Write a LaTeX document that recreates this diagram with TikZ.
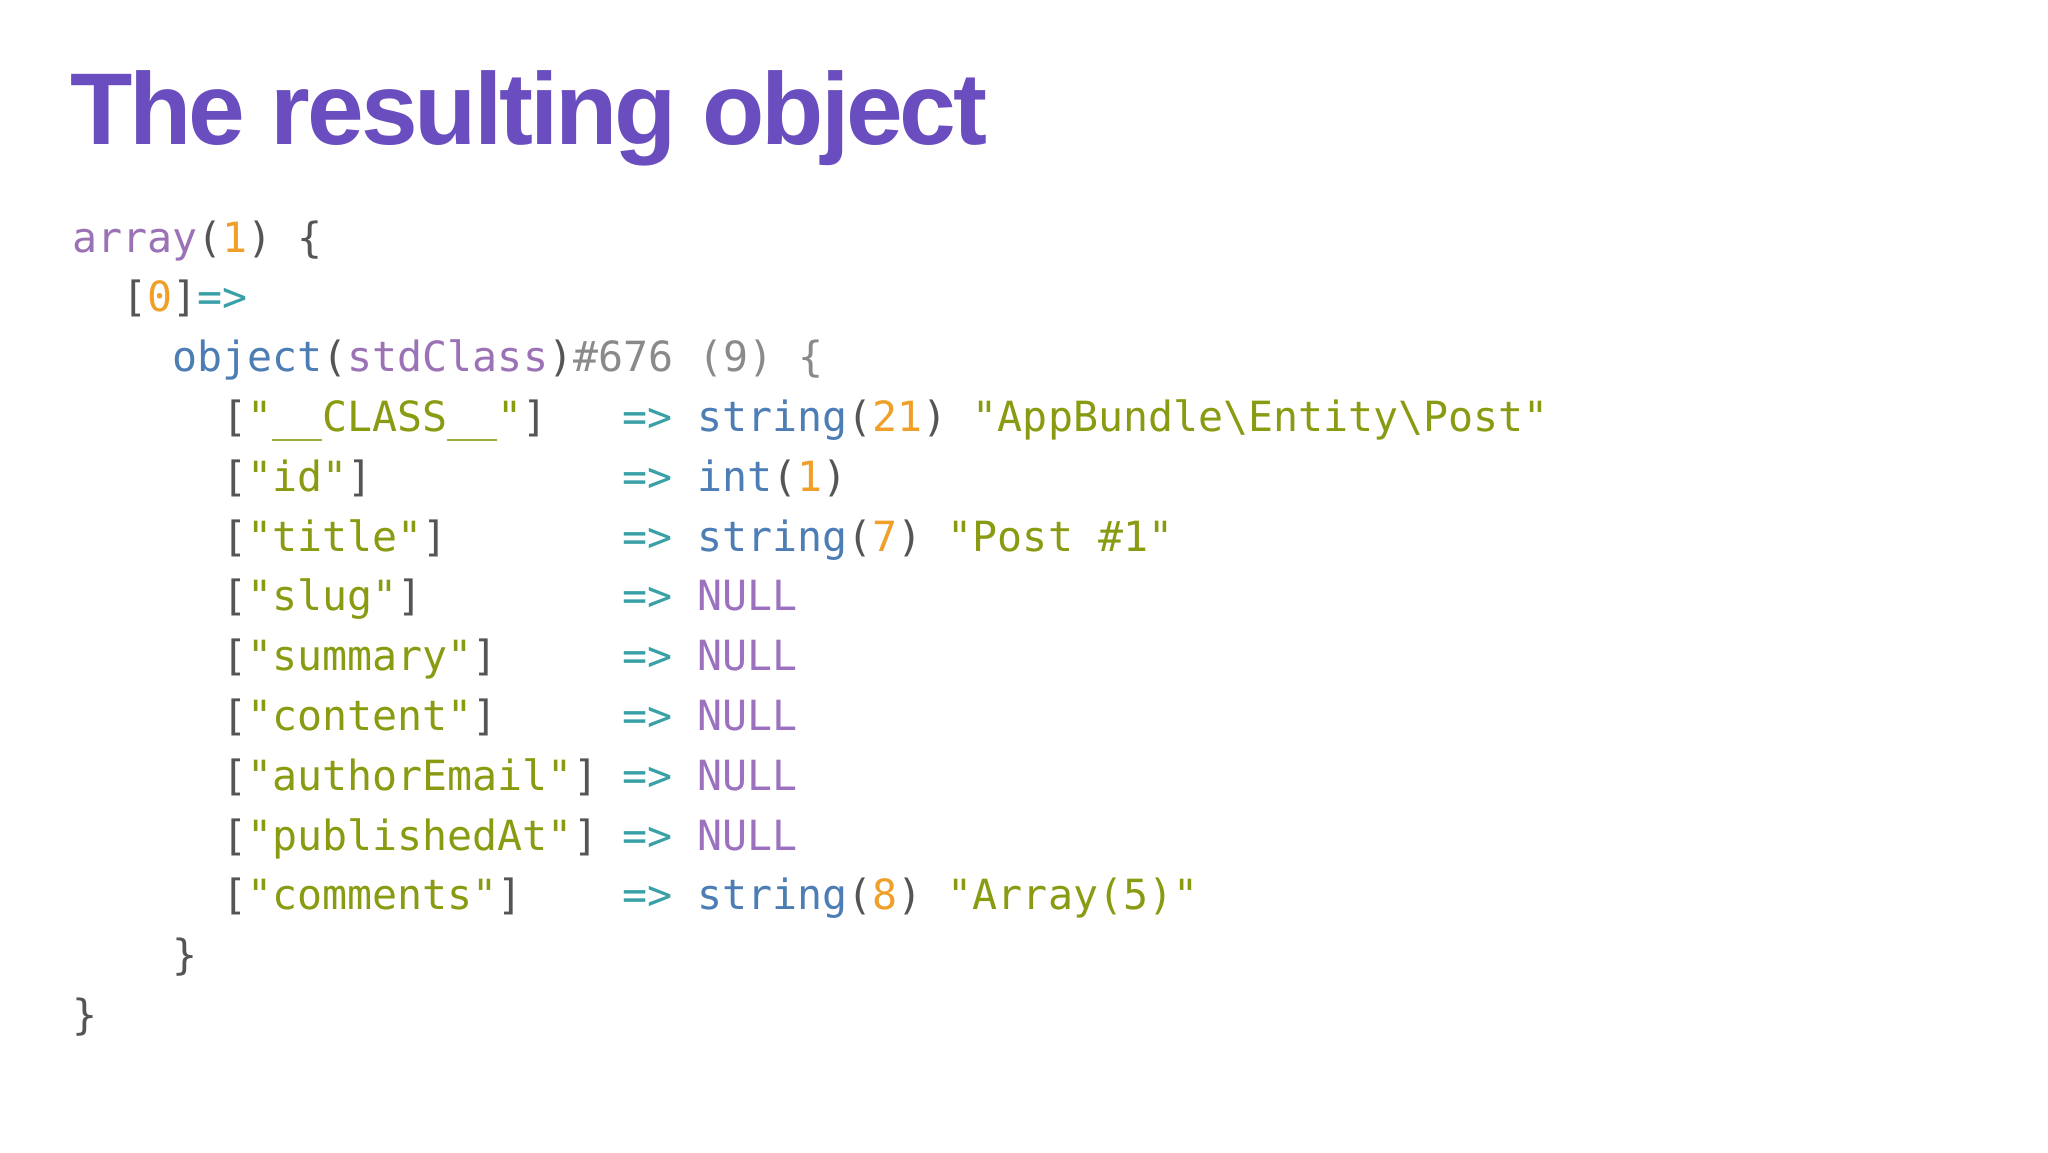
\documentclass[tikz,border=0pt]{standalone}
\usepackage{fontspec}
\setmainfont{Liberation Sans}
\newfontfamily\codefont{DejaVu Sans Mono}
\definecolor{ttl}{HTML}{6A4DBE}
\definecolor{kw}{HTML}{9B72B5}
\definecolor{pn}{HTML}{555555}
\definecolor{nm}{HTML}{F0A028}
\definecolor{ar}{HTML}{3AA0A8}
\definecolor{ty}{HTML}{4C7DB5}
\definecolor{gy}{HTML}{8A8A8A}
\definecolor{st}{HTML}{8A9B12}
\definecolor{nl}{HTML}{9C72C0}
\newcommand{\cK}[1]{\textcolor{kw}{#1}}
\newcommand{\cP}[1]{\textcolor{pn}{#1}}
\newcommand{\cN}[1]{\textcolor{nm}{#1}}
\newcommand{\cT}[1]{\textcolor{ty}{#1}}
\newcommand{\cG}[1]{\textcolor{gy}{#1}}
\newcommand{\cS}[1]{\textcolor{st}{#1}}
\newcommand{\cU}{\textcolor{nl}{NULL}}
\begin{document}
\begin{tikzpicture}[x=0.5pt,y=-0.5pt,
  code/.style={anchor=base west,inner sep=0pt,font=\codefont\fontsize{20.8pt}{24pt}\selectfont}]
\useasboundingbox[fill=white] (0,0) rectangle (2048,1152);
\node[anchor=base west,inner sep=0pt,text=ttl,font=\bfseries\fontsize{51pt}{58pt}\selectfont\addfontfeatures{LetterSpace=-3}] (title) at (70,144) {The resulting object};
\def\cw{25}\def\lh{59.8}
\def\L#1#2#3{\node[code] (#1) at ({72+#2*\cw},{252+#3*\lh}) }
\L{l0}{0}{0} {\cK{array}\cP{(}\cN{1}\cP{) \{}};
\L{l1}{2}{1} {\cP{[}\cN{0}\cP{]}\textcolor{ar}{=>}};
\L{l2}{4}{2} {\cT{object}\cP{(}\cK{stdClass}\cP{)}\cG{\#676 (9) \{}};
\L{k3}{6}{3} {\cP{[}\cS{"\_\_CLASS\_\_"}\cP{]}};
\L{k4}{6}{4} {\cP{[}\cS{"id"}\cP{]}};
\L{k5}{6}{5} {\cP{[}\cS{"title"}\cP{]}};
\L{k6}{6}{6} {\cP{[}\cS{"slug"}\cP{]}};
\L{k7}{6}{7} {\cP{[}\cS{"summary"}\cP{]}};
\L{k8}{6}{8} {\cP{[}\cS{"content"}\cP{]}};
\L{k9}{6}{9} {\cP{[}\cS{"authorEmail"}\cP{]}};
\L{k10}{6}{10} {\cP{[}\cS{"publishedAt"}\cP{]}};
\L{k11}{6}{11} {\cP{[}\cS{"comments"}\cP{]}};
\foreach \i in {3,...,11} {\L{a\i}{22}{\i} {\textcolor{ar}{=>}};}
\L{v3}{25}{3} {\cT{string}\cP{(}\cN{21}\cP{)} \cS{"AppBundle\textbackslash Entity\textbackslash Post"}};
\L{v4}{25}{4} {\cT{int}\cP{(}\cN{1}\cP{)}};
\L{v5}{25}{5} {\cT{string}\cP{(}\cN{7}\cP{)} \cS{"Post \#1"}};
\L{v6}{25}{6} {\cU};
\L{v7}{25}{7} {\cU};
\L{v8}{25}{8} {\cU};
\L{v9}{25}{9} {\cU};
\L{v10}{25}{10} {\cU};
\L{v11}{25}{11} {\cT{string}\cP{(}\cN{8}\cP{)} \cS{"Array(5)"}};
\L{c1}{4}{12} {\cP{\}}};
\L{c0}{0}{13} {\cP{\}}};
\end{tikzpicture}
\end{document}
